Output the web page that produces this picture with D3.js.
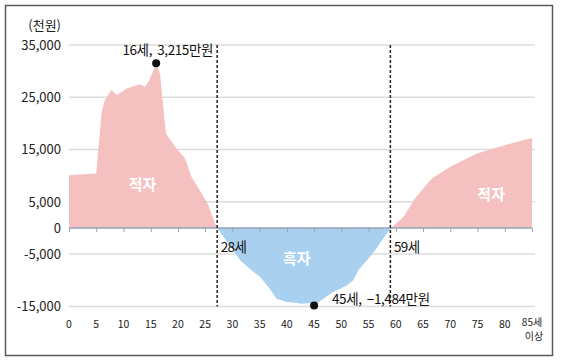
<!DOCTYPE html>
<html><head><meta charset="utf-8">
<script src="https://cdn.jsdelivr.net/npm/d3@7"></script>
<style>
html,body{margin:0;padding:0;background:#fff;}
svg{display:block;font-family:"Noto Sans CJK KR","Noto Sans",sans-serif;}
</style></head>
<body>
<svg id="chart" width="562" height="364"></svg>
<script>
// ---- data ----
const ages = [0, 5, 6, 6.6, 7.8, 8.8, 10.6, 13, 13.9, 14.6, 15.8, 16, 16.7, 17.8, 19.5, 21.3, 22.5, 24, 25.6, 26.8, 27.2,
  29.5, 31.4, 33.5, 35.1, 36.6, 38.1, 40, 41.8, 42.7, 44.2, 45, 46.7, 48.5, 51, 52.2, 53.1, 54.7, 56.2, 57.7, 59.1,
  61.4, 63.5, 66.6, 70, 74.9, 77.9, 81.6, 85];
const netValues = [10100, 10420, 22200, 24460, 26380, 25420, 26700, 27470, 27010, 27970, 30840, 31500, 29580, 18080, 15520, 13300, 9770, 7220, 4350, 840, 0,
  -3310, -6190, -8100, -9390, -11300, -13520, -14180, -14370, -14480, -14370, -14840, -13520, -12260, -10980, -10020, -8100, -6190, -4270, -2030, 0,
  2110, 5630, 9460, 11690, 14250, 15210, 16280, 17200];
const yTicks = [35000, 25000, 15000, 5000, 0, -5000, -15000];
const yTickLabels = ["35,000", "25,000", "15,000", "5,000", "0", "-5,000", "-15,000"];
const xTicks = [0,5,10,15,20,25,30,35,40,45,50,55,60,65,70,75,80,85];
const xTickLabels = ["0","5","10","15","20","25","30","35","40","45","50","55","60","65","70","75","80","85세"];
const lastTickSub = "이상";
const unitLabel = "(천원)";
const dividerAges = [27.2, 59];
const dividerLabels = ["28세", "59세"];
const peakPoints = [{age: 16, label: "16세,  3,215만원"}, {age: 45, label: "45세,  −1,484만원"}];
const regionLabels = [{age: 13.5, value: 8500, text: "적자"}, {age: 77.5, value: 6500, text: "적자"}, {age: 41.8, value: -5600, text: "흑자"}];

// ---- drawing ----
const svg = d3.select("#chart");
const x = d3.scaleLinear().domain([0, 85]).range([69, 532]);
const y = d3.scaleLinear().domain([-15000, 35000]).range([306.4, 45]);

// frame
svg.append("rect").attr("x", 5.5).attr("y", 5.5).attr("width", 547).attr("height", 350)
  .attr("fill", "none").attr("stroke", "#5a5a5a").attr("stroke-width", 1.5);

// gridlines
svg.append("g").selectAll("line").data(yTicks.filter(d => d !== 0)).join("line")
  .attr("x1", 69).attr("x2", 535).attr("y1", d => y(d)).attr("y2", d => y(d))
  .attr("stroke", "#dcdcdc").attr("stroke-width", 1.5);

// clip paths for positive / negative parts
const defs = svg.append("defs");
defs.append("clipPath").attr("id", "pos").append("rect")
  .attr("x", 0).attr("y", 0).attr("width", 562).attr("height", y(0));
defs.append("clipPath").attr("id", "neg").append("rect")
  .attr("x", 0).attr("y", y(0)).attr("width", 562).attr("height", 364 - y(0));

const series = ages.map((a, i) => ({age: a, v: netValues[i]}));
const area = d3.area().x(d => x(d.age)).y0(y(0)).y1(d => y(d.v));
svg.append("path").datum(series).attr("d", area).attr("fill", "#f5c1c0").attr("clip-path", "url(#pos)");
svg.append("path").datum(series).attr("d", area).attr("fill", "#aad0f0").attr("clip-path", "url(#neg)");

// zero axis with ticks
const xAxis = d3.axisBottom(x).tickValues(xTicks).tickSize(4).tickFormat("");
const gx = svg.append("g").attr("transform", `translate(0,${y(0)})`).call(xAxis);
gx.select(".domain").attr("stroke", "#93a4b6").attr("stroke-width", 1.5).attr("d", `M${x(0)},0H${x(85)}`);
gx.selectAll(".tick line").attr("stroke", "#93a4b6");

// x tick labels
const last = xTicks.length - 1;
svg.append("g").selectAll("text").data(xTicks.slice(0, last)).join("text")
  .attr("x", d => x(d)).attr("y", 327.5).attr("text-anchor", "middle")
  .attr("font-size", 10.5).attr("fill", "#222")
  .text((d, i) => xTickLabels[i]);
svg.append("text").attr("x", x(xTicks[last])).attr("y", 326).attr("text-anchor", "middle")
  .attr("font-size", 10).attr("fill", "#222").text(xTickLabels[last]);
svg.append("text").attr("x", x(xTicks[last]) + 2).attr("y", 339.5).attr("text-anchor", "middle")
  .attr("font-size", 10).attr("fill", "#222").text(lastTickSub);

// y tick labels
const yAxis = d3.axisLeft(y).tickValues(yTicks).tickSize(0).tickPadding(0)
  .tickFormat((d, i) => yTickLabels[i]);
const gy = svg.append("g").attr("transform", "translate(61,0)").call(yAxis);
gy.select(".domain").remove();
gy.selectAll("text").attr("font-size", 13).attr("fill", "#222")
  .attr("font-family", "'Noto Sans CJK KR','Noto Sans',sans-serif");
svg.append("text").attr("x", 61).attr("y", 30).attr("text-anchor", "end")
  .attr("font-size", 13).attr("fill", "#222").text(unitLabel);

// divider dashed lines
svg.append("g").selectAll("line").data(dividerAges).join("line")
  .attr("x1", d => x(d)).attr("x2", d => x(d)).attr("y1", y(35000)).attr("y2", y(-15000))
  .attr("stroke", "#222").attr("stroke-width", 1.5).attr("stroke-dasharray", "3,2");
svg.append("g").selectAll("text").data(dividerAges).join("text")
  .attr("x", d => x(d) + 3.5).attr("y", 252).attr("font-size", 13.5).attr("fill", "#111")
  .attr("letter-spacing", -0.6)
  .text((d, i) => dividerLabels[i]);

// region labels
svg.append("g").selectAll("text").data(regionLabels).join("text")
  .attr("x", d => x(d.age)).attr("y", d => y(d.value)).attr("text-anchor", "middle")
  .attr("dominant-baseline", "central")
  .attr("font-size", 15).attr("font-weight", "bold").attr("fill", "#fff").text(d => d.text);

// peak points
const valueAt = a => netValues[ages.indexOf(a)];
svg.append("g").selectAll("circle").data(peakPoints).join("circle")
  .attr("cx", d => x(d.age)).attr("cy", d => y(valueAt(d.age)))
  .attr("r", 4).attr("fill", "#111");
svg.append("text").attr("x", 213).attr("y", 55).attr("text-anchor", "end")
  .attr("font-size", 13.5).attr("fill", "#111").attr("letter-spacing", -0.4).style("white-space", "pre")
  .text(peakPoints[0].label);
svg.append("text").attr("x", 332).attr("y", 304).attr("text-anchor", "start")
  .attr("font-size", 13.5).attr("fill", "#111").attr("letter-spacing", -0.4).style("white-space", "pre")
  .text(peakPoints[1].label);
</script>
</body></html>
